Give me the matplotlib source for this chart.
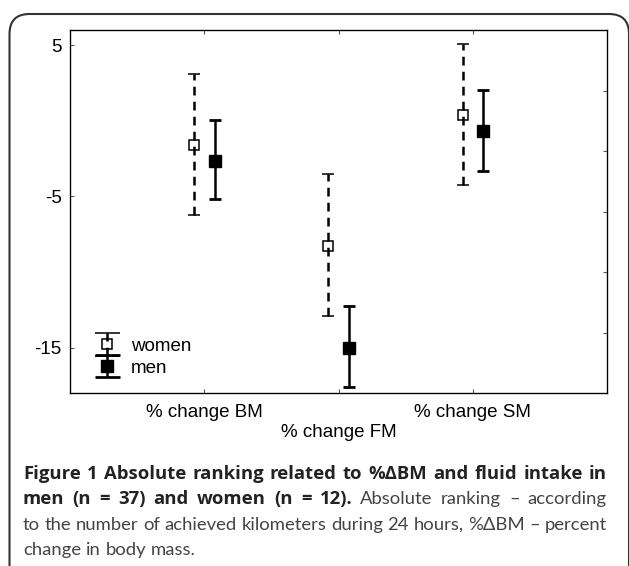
import numpy as np
import matplotlib
matplotlib.use('Agg')
import matplotlib.pyplot as plt
from matplotlib.patches import FancyBboxPatch
from matplotlib.transforms import IdentityTransform
from matplotlib.legend_handler import HandlerErrorbar
from matplotlib.lines import Line2D

# Dados
categories = ['% change BM', '% change FM', '% change SM']
women_mean = [-1.6, -8.3, 0.4]
women_upper = [3.1, -3.5, 5.1]
women_lower = [-6.2, -12.9, -4.25]
men_mean = [-2.65, -15.0, -0.7]
men_upper = [0.05, -12.25, 2.05]
men_lower = [-5.2, -17.6, -3.3]
series_labels = ['women', 'men']


# legenda com caps mais largos, como no original
class WideCapHandler(HandlerErrorbar):
    def create_artists(self, *args, **kwargs):
        artists = super().create_artists(*args, **kwargs)
        for a in artists:
            if isinstance(a, Line2D) and a.get_marker() == '_':
                a.set_markersize(a.get_markersize() * 2.0)
        return artists


W, H = 629, 566
fig = plt.figure(figsize=(W / 100, H / 100), dpi=100)
ax = fig.add_axes([70 / W, 1 - 393 / H, (607 - 70) / W, (393 - 30) / H])

x = np.arange(len(categories))
wm = np.array(women_mean)
mm = np.array(men_mean)
women_err = [wm - np.array(women_lower), np.array(women_upper) - wm]
men_err = [mm - np.array(men_lower), np.array(men_upper) - mm]

eb_w = ax.errorbar(x - 0.075, wm, yerr=women_err, fmt='s', ms=7.5, mfc='none', mec='black',
                   mew=1.1, ecolor='black', elinewidth=1.8, capsize=4.5, capthick=2.0,
                   label=series_labels[0])
eb_w[2][0].set_linestyle((0, (3.5, 2.5)))
eb_m = ax.errorbar(x + 0.08, mm, yerr=men_err, fmt='s', ms=8, mfc='black', mec='black',
                   ecolor='black', elinewidth=1.8, capsize=4.5, capthick=2.0,
                   label=series_labels[1])

ax.set_xlim(-1, 3)
ax.set_ylim(-18, 6)
ax.set_xticks(x)
ax.set_xticklabels([categories[0], '\n' + categories[1], categories[2]],
                   fontsize=13.5, family='Liberation Sans', linespacing=1.25)
ax.set_yticks([5, -5, -15])
ax.set_yticklabels(['5', '-5', '-15'], fontsize=13.5, family='Liberation Sans')
ax.tick_params(axis='both', direction='in', length=3, width=0.8, color='#555555')
ax.tick_params(axis='x', top=True, pad=8)
ax.tick_params(axis='y', pad=6)
for s in ax.spines.values():
    s.set_color('#555555')
    s.set_linewidth(1.0)

# ticks do lado direito
ax2 = ax.twinx()
ax2.set_ylim(-18, 6)
ax2.set_yticks([2, -2, -6, -10, -14])
ax2.set_yticklabels([])
ax2.tick_params(axis='y', direction='in', length=3, width=0.8, color='#555555')

leg = ax.legend(handles=[eb_w, eb_m], loc='lower left', bbox_to_anchor=(0.042, 0.045),
                frameon=False, handlelength=1.5, handletextpad=0.55,
                labelspacing=0.25, borderpad=0, borderaxespad=0,
                handler_map={type(eb_w): WideCapHandler(yerr_size=0.6)},
                prop={'family': 'Liberation Sans', 'size': 13.5})

# moldura arredondada
frame = FancyBboxPatch((9.5, -40), 619.5, (H - 14) + 40, boxstyle='round,pad=0,rounding_size=20',
                       transform=IdentityTransform(), fill=False, edgecolor='#333333',
                       linewidth=1.5, clip_on=False)
fig.add_artist(frame)

# legenda da figura, justificada
fonts = {'bold': 'Open Sans', 'normal': 'Lato'}
cap_lines = [
    [("Figure 1 Absolute ranking related to %ΔBM and fluid intake in", 'bold')],
    [("men (n = 37) and women (n = 12).", 'bold'), ("Absolute ranking – according", 'normal')],
    [("to the number of achieved kilometers during 24 hours, %ΔBM – percent", 'normal')],
    [("change in body mass.", 'normal')],
]
cap_y = [474, 499, 525, 550]
x_left, x_right = 23, 607

fig.canvas.draw()
renderer = fig.canvas.get_renderer()


def measure(txt, weight, size):
    t = fig.text(0, 0, txt, fontsize=size, family=fonts[weight], weight=weight)
    w = t.get_window_extent(renderer).width
    t.remove()
    return w


def line_width(line, size):
    return sum(measure(txt, wt, size) for txt, wt in line) + \
        (len(line) - 1) * (measure('a a', 'normal', size) - measure('aa', 'normal', size))


# maior tamanho de fonte em que todas as linhas justificadas cabem
cap_size = min(12 * (x_right - x_left) / line_width(l, 12) for l in cap_lines[:-1])
space_w = measure('a a', 'normal', cap_size) - measure('aa', 'normal', cap_size)
for i, line in enumerate(cap_lines):
    words = []
    for txt, weight in line:
        for wd in txt.split(' '):
            words.append((wd, weight))
    widths = [measure(wd, wt, cap_size) for wd, wt in words]
    if i < len(cap_lines) - 1:
        gap = (x_right - x_left - sum(widths)) / (len(words) - 1)
    else:
        gap = space_w
    xpos = x_left
    for (wd, wt), wdt in zip(words, widths):
        fig.text(xpos / W, 1 - cap_y[i] / H, wd, fontsize=cap_size, family=fonts[wt],
                 weight=wt, va='center', ha='left',
                 color='#222222' if wt == 'bold' else '#444444')
        xpos += wdt + gap

fig.savefig('out.png', dpi=100)
